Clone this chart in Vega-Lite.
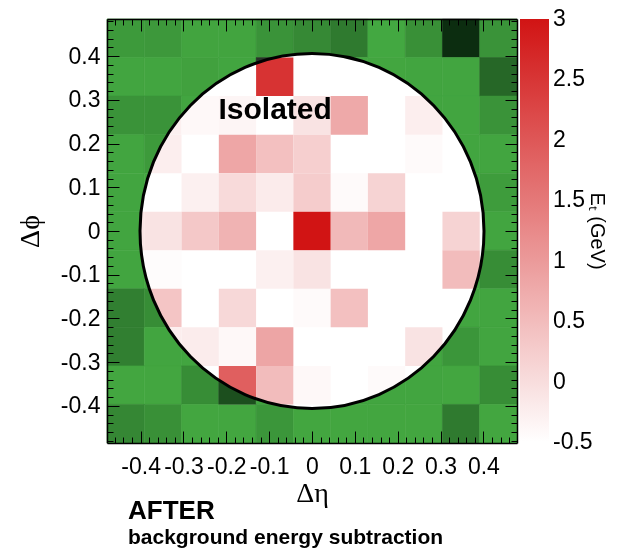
{
  "$schema": "https://vega.github.io/schema/vega-lite/v6.json",
  "width": 410,
  "height": 424,
  "autosize": {"type": "none"},
  "padding": {"left": 107, "top": 19, "right": 100, "bottom": 106},
  "background": "white",
  "config": {
    "view": {"stroke": null},
    "font": "Liberation Sans",
    "axis": {"grid": false, "domainColor": "black", "tickColor": "black", "labelColor": "black", "titleColor": "black", "labelFont": "Liberation Sans", "domainWidth": 1.5, "tickWidth": 1}
  },
  "title": {
    "text": "AFTER",
    "subtitle": "background energy subtraction",
    "orient": "bottom",
    "anchor": "start",
    "frame": "group",
    "dx": 21,
    "offset": -9,
    "font": "Liberation Sans",
    "fontSize": 26,
    "fontWeight": "bold",
    "color": "black",
    "subtitleFont": "Liberation Sans",
    "subtitleFontSize": 21,
    "subtitleFontWeight": "bold",
    "subtitleColor": "black",
    "subtitlePadding": 3
  },
  "data": {
    "values": [
      {"eta": -0.435, "phi": 0.441, "g": 0.12, "e": -0.5},
      {"eta": -0.348, "phi": 0.441, "g": 0.13, "e": -0.5},
      {"eta": -0.261, "phi": 0.441, "g": 0.04, "e": -0.5},
      {"eta": -0.174, "phi": 0.441, "g": 0.04, "e": -0.5},
      {"eta": -0.087, "phi": 0.441, "g": 0.17, "e": -0.5},
      {"eta": 0, "phi": 0.441, "g": 0.25, "e": -0.5},
      {"eta": 0.087, "phi": 0.441, "g": 0.37, "e": -0.5},
      {"eta": 0.174, "phi": 0.441, "g": 0.01, "e": -0.5},
      {"eta": 0.261, "phi": 0.441, "g": 0.2, "e": -0.5},
      {"eta": 0.348, "phi": 0.441, "g": 0.98, "e": -0.5},
      {"eta": 0.435, "phi": 0.441, "g": 0.17, "e": -0.5},

      {"eta": -0.435, "phi": 0.353, "g": 0.03, "e": -0.5},
      {"eta": -0.348, "phi": 0.353, "g": 0.03, "e": -0.5},
      {"eta": -0.261, "phi": 0.353, "g": 0.06, "e": -0.5},
      {"eta": -0.174, "phi": 0.353, "g": 0.03, "e": -0.5},
      {"eta": -0.087, "phi": 0.353, "g": 0.5, "e": 2.54},
      {"eta": 0, "phi": 0.353, "g": 0.02, "e": -0.5},
      {"eta": 0.087, "phi": 0.353, "g": 0.02, "e": -0.5},
      {"eta": 0.174, "phi": 0.353, "g": 0.02, "e": -0.5},
      {"eta": 0.261, "phi": 0.353, "g": 0.03, "e": -0.5},
      {"eta": 0.348, "phi": 0.353, "g": 0.03, "e": -0.5},
      {"eta": 0.435, "phi": 0.353, "g": 0.52, "e": -0.5},

      {"eta": -0.435, "phi": 0.265, "g": 0.17, "e": -0.5},
      {"eta": -0.348, "phi": 0.265, "g": 0.17, "e": -0.28},
      {"eta": -0.261, "phi": 0.265, "g": 0.03, "e": -0.4},
      {"eta": -0.174, "phi": 0.265, "g": 0.03, "e": -0.35},
      {"eta": -0.087, "phi": 0.265, "g": 0.03, "e": -0.5},
      {"eta": 0, "phi": 0.265, "g": 0.03, "e": -0.08},
      {"eta": 0.087, "phi": 0.265, "g": 0.03, "e": 0.78},
      {"eta": 0.174, "phi": 0.265, "g": 0.03, "e": -0.5},
      {"eta": 0.261, "phi": 0.265, "g": 0.03, "e": -0.25},
      {"eta": 0.348, "phi": 0.265, "g": 0.03, "e": -0.5},
      {"eta": 0.435, "phi": 0.265, "g": 0.17, "e": -0.5},

      {"eta": -0.435, "phi": 0.176, "g": 0.03, "e": -0.5},
      {"eta": -0.348, "phi": 0.176, "g": 0.12, "e": -0.25},
      {"eta": -0.261, "phi": 0.176, "g": 0.03, "e": -0.5},
      {"eta": -0.174, "phi": 0.176, "g": 0.03, "e": 0.83},
      {"eta": -0.087, "phi": 0.176, "g": 0.03, "e": 0.44},
      {"eta": 0, "phi": 0.176, "g": 0.03, "e": 0.21},
      {"eta": 0.087, "phi": 0.176, "g": 0.03, "e": -0.5},
      {"eta": 0.174, "phi": 0.176, "g": 0.03, "e": -0.5},
      {"eta": 0.261, "phi": 0.176, "g": 0.03, "e": -0.43},
      {"eta": 0.348, "phi": 0.176, "g": 0.03, "e": -0.5},
      {"eta": 0.435, "phi": 0.176, "g": 0.03, "e": -0.5},

      {"eta": -0.435, "phi": 0.088, "g": 0.03, "e": -0.5},
      {"eta": -0.348, "phi": 0.088, "g": 0.03, "e": -0.5},
      {"eta": -0.261, "phi": 0.088, "g": 0.03, "e": -0.28},
      {"eta": -0.174, "phi": 0.088, "g": 0.03, "e": 0.05},
      {"eta": -0.087, "phi": 0.088, "g": 0.03, "e": -0.2},
      {"eta": 0, "phi": 0.088, "g": 0.03, "e": 0.26},
      {"eta": 0.087, "phi": 0.088, "g": 0.03, "e": -0.43},
      {"eta": 0.174, "phi": 0.088, "g": 0.03, "e": 0.16},
      {"eta": 0.261, "phi": 0.088, "g": 0.03, "e": -0.5},
      {"eta": 0.348, "phi": 0.088, "g": 0.03, "e": -0.5},
      {"eta": 0.435, "phi": 0.088, "g": 0.1, "e": -0.5},

      {"eta": -0.435, "phi": 0, "g": 0.03, "e": -0.1},
      {"eta": -0.348, "phi": 0, "g": 0.03, "e": -0.08},
      {"eta": -0.261, "phi": 0, "g": 0.03, "e": 0.32},
      {"eta": -0.174, "phi": 0, "g": 0.03, "e": 0.63},
      {"eta": -0.087, "phi": 0, "g": 0.03, "e": -0.5},
      {"eta": 0, "phi": 0, "g": 0.03, "e": 3.0},
      {"eta": 0.087, "phi": 0, "g": 0.03, "e": 0.54},
      {"eta": 0.174, "phi": 0, "g": 0.03, "e": 0.83},
      {"eta": 0.261, "phi": 0, "g": 0.03, "e": -0.5},
      {"eta": 0.348, "phi": 0, "g": 0.03, "e": 0.16},
      {"eta": 0.435, "phi": 0, "g": 0.03, "e": -0.5},

      {"eta": -0.435, "phi": -0.088, "g": 0.03, "e": -0.5},
      {"eta": -0.348, "phi": -0.088, "g": 0.03, "e": -0.45},
      {"eta": -0.261, "phi": -0.088, "g": 0.03, "e": -0.5},
      {"eta": -0.174, "phi": -0.088, "g": 0.03, "e": -0.5},
      {"eta": -0.087, "phi": -0.088, "g": 0.03, "e": -0.28},
      {"eta": 0, "phi": -0.088, "g": 0.03, "e": -0.08},
      {"eta": 0.087, "phi": -0.088, "g": 0.03, "e": -0.5},
      {"eta": 0.174, "phi": -0.088, "g": 0.03, "e": -0.5},
      {"eta": 0.261, "phi": -0.088, "g": 0.03, "e": -0.5},
      {"eta": 0.348, "phi": -0.088, "g": 0.03, "e": 0.5},
      {"eta": 0.435, "phi": -0.088, "g": 0.22, "e": -0.5},

      {"eta": -0.435, "phi": -0.176, "g": 0.33, "e": -0.5},
      {"eta": -0.348, "phi": -0.176, "g": 0.22, "e": 0.36},
      {"eta": -0.261, "phi": -0.176, "g": 0.03, "e": -0.5},
      {"eta": -0.174, "phi": -0.176, "g": 0.03, "e": 0.08},
      {"eta": -0.087, "phi": -0.176, "g": 0.03, "e": -0.5},
      {"eta": 0, "phi": -0.176, "g": 0.03, "e": -0.43},
      {"eta": 0.087, "phi": -0.176, "g": 0.03, "e": 0.44},
      {"eta": 0.174, "phi": -0.176, "g": 0.03, "e": -0.5},
      {"eta": 0.261, "phi": -0.176, "g": 0.03, "e": -0.5},
      {"eta": 0.348, "phi": -0.176, "g": 0.03, "e": -0.5},
      {"eta": 0.435, "phi": -0.176, "g": 0.03, "e": -0.5},

      {"eta": -0.435, "phi": -0.265, "g": 0.33, "e": -0.5},
      {"eta": -0.348, "phi": -0.265, "g": 0.03, "e": -0.25},
      {"eta": -0.261, "phi": -0.265, "g": 0.03, "e": -0.22},
      {"eta": -0.174, "phi": -0.265, "g": 0.03, "e": -0.4},
      {"eta": -0.087, "phi": -0.265, "g": 0.03, "e": 0.84},
      {"eta": 0, "phi": -0.265, "g": 0.03, "e": -0.5},
      {"eta": 0.087, "phi": -0.265, "g": 0.03, "e": -0.5},
      {"eta": 0.174, "phi": -0.265, "g": 0.03, "e": -0.5},
      {"eta": 0.261, "phi": -0.265, "g": 0.03, "e": -0.08},
      {"eta": 0.348, "phi": -0.265, "g": 0.15, "e": -0.5},
      {"eta": 0.435, "phi": -0.265, "g": 0.03, "e": -0.5},

      {"eta": -0.435, "phi": -0.353, "g": 0.02, "e": -0.5},
      {"eta": -0.348, "phi": -0.353, "g": 0.02, "e": -0.5},
      {"eta": -0.261, "phi": -0.353, "g": 0.22, "e": -0.5},
      {"eta": -0.174, "phi": -0.353, "g": 0.71, "e": 1.88},
      {"eta": -0.087, "phi": -0.353, "g": 0.03, "e": 0.5},
      {"eta": 0, "phi": -0.353, "g": 0.03, "e": -0.4},
      {"eta": 0.087, "phi": -0.353, "g": 0.03, "e": -0.5},
      {"eta": 0.174, "phi": -0.353, "g": 0.03, "e": -0.43},
      {"eta": 0.261, "phi": -0.353, "g": 0.03, "e": -0.5},
      {"eta": 0.348, "phi": -0.353, "g": 0.02, "e": -0.5},
      {"eta": 0.435, "phi": -0.353, "g": 0.22, "e": -0.5},

      {"eta": -0.435, "phi": -0.441, "g": 0.27, "e": -0.5},
      {"eta": -0.348, "phi": -0.441, "g": 0.2, "e": -0.5},
      {"eta": -0.261, "phi": -0.441, "g": 0.02, "e": -0.5},
      {"eta": -0.174, "phi": -0.441, "g": 0.02, "e": -0.5},
      {"eta": -0.087, "phi": -0.441, "g": 0.15, "e": -0.5},
      {"eta": 0, "phi": -0.441, "g": 0.02, "e": -0.5},
      {"eta": 0.087, "phi": -0.441, "g": 0.02, "e": -0.5},
      {"eta": 0.174, "phi": -0.441, "g": 0.02, "e": -0.5},
      {"eta": 0.261, "phi": -0.441, "g": 0.02, "e": -0.5},
      {"eta": 0.348, "phi": -0.441, "g": 0.37, "e": -0.5},
      {"eta": 0.435, "phi": -0.441, "g": 0.02, "e": -0.5}
    ]
  },
  "layer": [
    {
      "transform": [
        {"bin": {"extent": [-0.4785, 0.4785], "step": 0.087, "nice": false}, "field": "eta", "as": ["eta0", "eta1"]},
        {"bin": {"extent": [-0.485, 0.485], "step": 0.088182, "nice": false}, "field": "phi", "as": ["phi0", "phi1"]}
      ],
      "mark": {"type": "rect", "strokeWidth": 0.6},
      "encoding": {
        "x": {"field": "eta0", "type": "quantitative", "scale": {"domain": [-0.4785, 0.4785], "nice": false, "zero": false},
          "axis": {"orient": "bottom", "zindex": 2, "values": [-0.4, -0.3, -0.2, -0.1, 0, 0.1, 0.2, 0.3, 0.4], "labelExpr": "'' + datum.value", "tickSize": -12, "labelPadding": 24, "labelFontSize": 23, "labelOverlap": false, "labelFlush": false, "domain": true, "title": "Δη", "titleFont": "Liberation Serif", "titleFontSize": 28, "titleFontWeight": "normal", "titlePadding": 1}},
        "x2": {"field": "eta1"},
        "y": {"field": "phi0", "type": "quantitative", "scale": {"domain": [-0.485, 0.485], "nice": false, "zero": false},
          "axis": {"orient": "left", "zindex": 2, "values": [-0.4, -0.3, -0.2, -0.1, 0, 0.1, 0.2, 0.3, 0.4], "labelExpr": "'' + datum.value", "tickSize": -12, "labelPadding": 19, "labelFontSize": 23, "labelOverlap": false, "labelFlush": false, "domain": true, "title": "Δϕ", "titleFont": "Liberation Serif", "titleFontSize": 28, "titleFontWeight": "normal", "titlePadding": 16}},
        "y2": {"field": "phi1"},
        "fill": {"field": "g", "type": "quantitative", "scale": {"domain": [0, 1], "range": ["#44a941", "#0b2a0f"], "interpolate": "rgb"}, "legend": null},
        "stroke": {"field": "g", "type": "quantitative", "scale": {"domain": [0, 1], "range": ["#44a941", "#0b2a0f"], "interpolate": "rgb"}, "legend": null}
      }
    },
    {
      "data": {"values": [{"eta": 0, "phi": 0}]},
      "mark": {"type": "point", "shape": "M-1,0C-1,-0.57,-0.5523,-1.032,0,-1.032C0.5523,-1.032,1,-0.57,1,0C1,0.57,0.5523,1.032,0,1.032C-0.5523,1.032,-1,0.57,-1,0Z", "filled": true, "fill": "white", "strokeWidth": 0, "opacity": 1, "size": 118336},
      "encoding": {
        "x": {"field": "eta", "type": "quantitative", "scale": {"domain": [-0.4785, 0.4785], "nice": false, "zero": false},
          "axis": {"orient": "bottom", "zindex": 2, "values": [-0.46, -0.44, -0.42, -0.4, -0.38, -0.36, -0.34, -0.32, -0.3, -0.28, -0.26, -0.24, -0.22, -0.2, -0.18, -0.16, -0.14, -0.12, -0.1, -0.08, -0.06, -0.04, -0.02, 0, 0.02, 0.04, 0.06, 0.08, 0.1, 0.12, 0.14, 0.16, 0.18, 0.2, 0.22, 0.24, 0.26, 0.28, 0.3, 0.32, 0.34, 0.36, 0.38, 0.4, 0.42, 0.44, 0.46], "tickSize": -6, "labels": false, "domain": false, "title": null}},
        "y": {"field": "phi", "type": "quantitative", "scale": {"domain": [-0.485, 0.485], "nice": false, "zero": false},
          "axis": {"orient": "left", "zindex": 2, "values": [-0.48, -0.46, -0.44, -0.42, -0.4, -0.38, -0.36, -0.34, -0.32, -0.3, -0.28, -0.26, -0.24, -0.22, -0.2, -0.18, -0.16, -0.14, -0.12, -0.1, -0.08, -0.06, -0.04, -0.02, 0, 0.02, 0.04, 0.06, 0.08, 0.1, 0.12, 0.14, 0.16, 0.18, 0.2, 0.22, 0.24, 0.26, 0.28, 0.3, 0.32, 0.34, 0.36, 0.38, 0.4, 0.42, 0.44, 0.46, 0.48], "tickSize": -6, "labels": false, "domain": false, "title": null}}
      }
    },
    {
      "transform": [
        {"bin": {"extent": [-0.4785, 0.4785], "step": 0.087, "nice": false}, "field": "eta", "as": ["eta0", "eta1"]},
        {"bin": {"extent": [-0.485, 0.485], "step": 0.088182, "nice": false}, "field": "phi", "as": ["phi0", "phi1"]}
      ],
      "mark": {"type": "rect", "blend": "darken"},
      "encoding": {
        "x": {"field": "eta0", "type": "quantitative", "scale": {"domain": [-0.4785, 0.4785], "nice": false, "zero": false},
          "axis": {"orient": "top", "zindex": 2, "values": [-0.4, -0.3, -0.2, -0.1, 0, 0.1, 0.2, 0.3, 0.4], "tickSize": -12, "labels": false, "domain": true, "title": null}},
        "x2": {"field": "eta1"},
        "y": {"field": "phi0", "type": "quantitative", "scale": {"domain": [-0.485, 0.485], "nice": false, "zero": false},
          "axis": {"orient": "right", "zindex": 2, "values": [-0.4, -0.3, -0.2, -0.1, 0, 0.1, 0.2, 0.3, 0.4], "tickSize": -12, "labels": false, "domain": true, "title": null}},
        "y2": {"field": "phi1"},
        "fill": {"field": "e", "type": "quantitative", "scale": {"domain": [-0.5, 3], "range": ["#ffffff", "#d11414"], "interpolate": "rgb", "clamp": true},
          "legend": {"title": "Eₜ (GeV)", "orient": "right", "offset": 2, "padding": 0, "direction": "vertical", "gradientLength": 423, "gradientThickness": 29, "gradientStrokeWidth": 0, "values": [-0.5, 0, 0.5, 1, 1.5, 2, 2.5, 3], "labelExpr": "'' + datum.value", "labelFontSize": 23, "labelFont": "Liberation Sans", "labelColor": "black", "labelOffset": 4, "labelOverlap": false, "titleOrient": "right", "titleAngle": 270, "titleFontSize": 20, "titleFont": "Liberation Sans", "titleFontWeight": "normal", "titleColor": "black", "titleAnchor": "middle", "titleAlign": "center", "titleBaseline": "top", "titlePadding": 14,
            "encode": {"labels": {"update": {"baseline": {"value": "middle"}}}}}}
      }
    },
    {
      "data": {"values": [{"eta": 0, "phi": 0}]},
      "mark": {"type": "point", "shape": "M-1,0C-1,-0.57,-0.5523,-1.032,0,-1.032C0.5523,-1.032,1,-0.57,1,0C1,0.57,0.5523,1.032,0,1.032C-0.5523,1.032,-1,0.57,-1,0Z", "filled": false, "stroke": "black", "strokeWidth": 3, "opacity": 1, "size": 118336},
      "encoding": {
        "x": {"field": "eta", "type": "quantitative", "scale": {"domain": [-0.4785, 0.4785], "nice": false, "zero": false},
          "axis": {"orient": "top", "zindex": 2, "values": [-0.46, -0.44, -0.42, -0.4, -0.38, -0.36, -0.34, -0.32, -0.3, -0.28, -0.26, -0.24, -0.22, -0.2, -0.18, -0.16, -0.14, -0.12, -0.1, -0.08, -0.06, -0.04, -0.02, 0, 0.02, 0.04, 0.06, 0.08, 0.1, 0.12, 0.14, 0.16, 0.18, 0.2, 0.22, 0.24, 0.26, 0.28, 0.3, 0.32, 0.34, 0.36, 0.38, 0.4, 0.42, 0.44, 0.46], "tickSize": -6, "labels": false, "domain": false, "title": null}},
        "y": {"field": "phi", "type": "quantitative", "scale": {"domain": [-0.485, 0.485], "nice": false, "zero": false},
          "axis": {"orient": "right", "zindex": 2, "values": [-0.48, -0.46, -0.44, -0.42, -0.4, -0.38, -0.36, -0.34, -0.32, -0.3, -0.28, -0.26, -0.24, -0.22, -0.2, -0.18, -0.16, -0.14, -0.12, -0.1, -0.08, -0.06, -0.04, -0.02, 0, 0.02, 0.04, 0.06, 0.08, 0.1, 0.12, 0.14, 0.16, 0.18, 0.2, 0.22, 0.24, 0.26, 0.28, 0.3, 0.32, 0.34, 0.36, 0.38, 0.4, 0.42, 0.44, 0.46, 0.48], "tickSize": -6, "labels": false, "domain": false, "title": null}}
      }
    },
    {
      "data": {"values": [{"eta": -0.086, "phi": 0.256, "label": "Isolated"}]},
      "mark": {"type": "text", "font": "Liberation Sans", "fontSize": 30, "fontWeight": "bold", "align": "center", "baseline": "alphabetic", "color": "black"},
      "encoding": {
        "x": {"field": "eta", "type": "quantitative", "scale": {"domain": [-0.4785, 0.4785], "nice": false, "zero": false}, "axis": null},
        "y": {"field": "phi", "type": "quantitative", "scale": {"domain": [-0.485, 0.485], "nice": false, "zero": false}, "axis": null},
        "text": {"field": "label"}
      }
    }
  ],
  "resolve": {"scale": {"fill": "independent", "stroke": "independent"}, "axis": {"x": "independent", "y": "independent"}}
}
